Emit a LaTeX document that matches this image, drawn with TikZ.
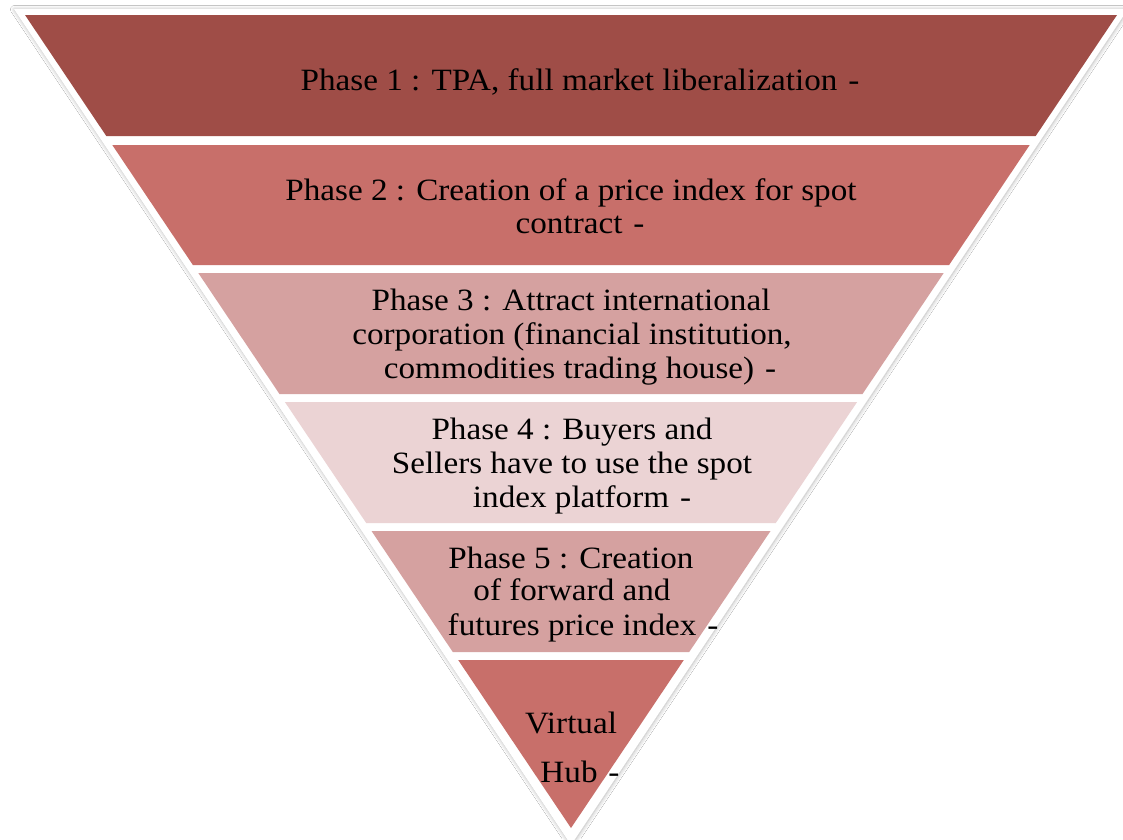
\documentclass[tikz,border=0pt]{standalone}
\usepackage{fontspec}
\setmainfont{Liberation Serif}[FakeStretch=1.07]
\usetikzlibrary{shadows.blur}
\definecolor{bandA}{HTML}{9F4D47}
\definecolor{bandB}{HTML}{C86F6A}
\definecolor{bandC}{HTML}{D5A1A0}
\definecolor{bandD}{HTML}{EBD3D4}
\tikzset{
  lbl/.style={anchor=base, inner sep=0pt, text=black, font=\fontsize{31}{34}\selectfont},
  outertri/.style={fill=white, blur shadow={shadow xshift=0.5pt, shadow yshift=-0.5pt, shadow blur radius=4pt, shadow blur steps=8, shadow opacity=30}}
}
\newcommand{\dsh}{\hspace{0.35em}-}
\begin{document}
\begin{tikzpicture}[x=1pt,y=-1pt]
\useasboundingbox (0,0) rectangle (1123,839);
\fill[white] (0,0) rectangle (1123,839);
% outer white triangle with soft shadow
\path[outertri] (14,9) -- (1128,9) -- (571,845) -- cycle;
% bands
\fill[bandA] (25,15) -- (1117,15) -- (1035.7,136) -- (106.3,136) -- cycle;
\fill[bandB] (112.3,145) -- (1029.7,145) -- (949.1,265) -- (192.9,265) -- cycle;
\fill[bandC] (198.3,273) -- (943.7,273) -- (862.5,394) -- (279.5,394) -- cycle;
\fill[bandD] (284.9,402) -- (857.1,402) -- (775.8,523) -- (366.2,523) -- cycle;
\fill[bandC] (371.5,531) -- (770.5,531) -- (689.2,652) -- (452.8,652) -- cycle;
\fill[bandB] (458.2,660) -- (683.8,660) -- (571,828) -- cycle;
% texts
\node[lbl] (p1) at (580,90) {Phase 1 : TPA, full market liberalization\dsh};
\node[lbl] (p2a) at (571,200) {Phase 2 : Creation of a price index for spot};
\node[lbl] (p2b) at (580,233) {contract\dsh};
\node[lbl] (p3a) at (571,310) {Phase 3 : Attract international};
\node[lbl] (p3b) at (572,344) {corporation (financial institution,};
\node[lbl] (p3c) at (580,378) {commodities trading house)\dsh};
\node[lbl] (p4a) at (572,439) {Phase 4 : Buyers and};
\node[lbl] (p4b) at (572,473) {Sellers have to use the spot};
\node[lbl] (p4c) at (582,507) {index platform\dsh};
\node[lbl] (p5a) at (571,568) {Phase 5 : Creation};
\node[lbl] (p5b) at (572,600) {of forward and};
\node[lbl] (p5c) at (583,635) {futures price index\dsh};
\node[lbl] (p6a) at (571,733) {Virtual};
\node[lbl] (p6b) at (580,782) {Hub\dsh};
\end{tikzpicture}
\end{document}
